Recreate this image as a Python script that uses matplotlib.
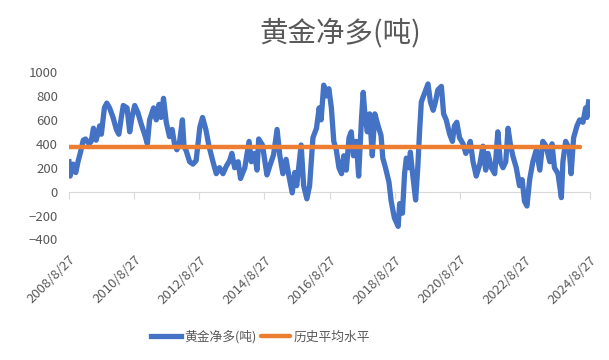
import matplotlib
matplotlib.use("Agg")
import matplotlib.pyplot as plt
import pandas as pd

plt.rcParams['font.family'] = ['Noto Sans CJK SC', 'DejaVu Sans']

# gold net long (tonnes)
dates = [
    "2008-08-27", "2008-09-09", "2008-10-11", "2008-11-11", "2008-12-06",
    "2009-01-03", "2009-02-03", "2009-02-28", "2009-04-09", "2009-05-03",
    "2009-05-28", "2009-06-28", "2009-08-06", "2009-08-25", "2009-09-28",
    "2009-10-25", "2009-11-25", "2010-01-03", "2010-02-09", "2010-03-09",
    "2010-04-06", "2010-04-28", "2010-06-09", "2010-07-09", "2010-08-03",
    "2010-09-03", "2010-10-09", "2010-11-17", "2010-12-23", "2011-01-23",
    "2011-02-17", "2011-04-03", "2011-05-03", "2011-06-03", "2011-06-25",
    "2011-07-23", "2011-08-23", "2011-09-28", "2011-10-28", "2011-11-23",
    "2011-12-20", "2012-01-20", "2012-02-20", "2012-03-09", "2012-04-03",
    "2012-05-11", "2012-06-17", "2012-07-23", "2012-09-03", "2012-10-03",
    "2012-11-09", "2012-12-14", "2013-01-28", "2013-03-06", "2013-04-11",
    "2013-05-20", "2013-06-25", "2013-08-03", "2013-08-28", "2013-09-28",
    "2013-11-06", "2013-12-03", "2014-01-20", "2014-03-09", "2014-04-03",
    "2014-05-09", "2014-06-06", "2014-06-25", "2014-08-06", "2014-08-28",
    "2014-09-25", "2014-11-03", "2014-12-09", "2015-01-17", "2015-02-17",
    "2015-03-23", "2015-04-28", "2015-05-25", "2015-07-06", "2015-08-03",
    "2015-08-25", "2015-10-14", "2015-11-11", "2015-12-17", "2016-01-17",
    "2016-02-23", "2016-04-03", "2016-05-03", "2016-05-25", "2016-06-23",
    "2016-07-23", "2016-08-20", "2016-09-17", "2016-10-14", "2016-11-11",
    "2016-12-11", "2017-01-09", "2017-02-03", "2017-03-03", "2017-04-03",
    "2017-04-28", "2017-05-23", "2017-06-23", "2017-07-20", "2017-08-20",
    "2017-09-09", "2017-09-28", "2017-10-25", "2017-11-20", "2017-12-20",
    "2018-01-17", "2018-02-23", "2018-03-28", "2018-04-17", "2018-05-17",
    "2018-06-25", "2018-07-20", "2018-08-25", "2018-10-06", "2018-10-23",
    "2018-11-23", "2018-12-17", "2019-01-06", "2019-02-06", "2019-02-20",
    "2019-03-20", "2019-04-20", "2019-05-14", "2019-06-03", "2019-06-23",
    "2019-07-28", "2019-09-06", "2019-10-03", "2019-11-03", "2019-11-28",
    "2019-12-25", "2020-02-03", "2020-02-28", "2020-03-28", "2020-05-06",
    "2020-06-06", "2020-06-28", "2020-07-25", "2020-08-25", "2020-10-03",
    "2020-11-03", "2020-11-28", "2020-12-23", "2021-01-23", "2021-02-28",
    "2021-04-09", "2021-05-14", "2021-06-14", "2021-07-09", "2021-08-17",
    "2021-09-23", "2021-10-28", "2021-11-25", "2021-12-25", "2022-01-25",
    "2022-02-20", "2022-03-17", "2022-04-14", "2022-05-23", "2022-06-28",
    "2022-07-28", "2022-08-23", "2022-09-20", "2022-10-20", "2022-11-25",
    "2023-01-03", "2023-02-11", "2023-03-17", "2023-04-23", "2023-06-03",
    "2023-06-28", "2023-07-25", "2023-09-03", "2023-10-11", "2023-10-28",
    "2023-11-28", "2024-01-06", "2024-01-28", "2024-02-25", "2024-04-03",
    "2024-05-03", "2024-06-09", "2024-07-09", "2024-07-23", "2024-08-11",
]
net_long = [
    250, 130, 230, 160, 250,
    330, 430, 440, 400, 420,
    530, 430, 550, 480, 700,
    740, 700, 620, 520, 480,
    620, 720, 700, 500, 620,
    720, 660, 560, 480, 400,
    600, 700, 600, 730, 620,
    780, 580, 460, 520, 400,
    350, 420, 600, 380, 340,
    250, 230, 260, 540, 620,
    520, 380, 250, 150, 200,
    150, 210, 260, 320, 200,
    250, 110, 200, 420, 250,
    320, 180, 440, 390, 280,
    140, 230, 310, 520, 300,
    150, 270, 150, -10, 160,
    50, 390, 50, -60, 50,
    450, 530, 700, 600, 890,
    800, 860, 700, 420, 350,
    200, 150, 300, 180, 450,
    500, 300, 420, 130, 600,
    830, 650, 500, 650, 300,
    650, 550, 470, 280, 200,
    80, -80, -220, -290, -100,
    -180, 150, 280, 200, 330,
    130, -70, 200, 500, 750,
    820, 900, 750, 680, 750,
    850, 880, 650, 600, 480,
    420, 550, 580, 450, 400,
    320, 360, 420, 250, 130,
    230, 380, 180, 320, 200,
    150, 500, 250, 200, 250,
    530, 400, 300, 200, 50,
    100, -80, -120, 100, 250,
    350, 180, 420, 380, 250,
    400, 200, 150, -50, 250,
    420, 360, 150, 450, 550,
    600, 580, 700, 620, 750,
]

avg_dates = ["2008-08-27", "2024-05-10"]
avg_values = [375, 375]

tick_dates = ["2008-08-27", "2010-08-27", "2012-08-27", "2014-08-27", "2016-08-27",
              "2018-08-27", "2020-08-27", "2022-08-27", "2024-08-27"]
tick_labels = ["2008/8/27", "2010/8/27", "2012/8/27", "2014/8/27", "2016/8/27",
               "2018/8/27", "2020/8/27", "2022/8/27", "2024/8/27"]

blue = "#4472C4"
orange = "#ED7D31"
gray = "#595959"

x = pd.to_datetime(dates)
xa = pd.to_datetime(avg_dates)
xt = pd.to_datetime(tick_dates)

fig = plt.figure(figsize=(6.09, 3.6), dpi=100)
ax = fig.add_axes([69 / 609, 1 - 239.5 / 360, (590 - 69) / 609, (239.5 - 72) / 360])

ax.plot(x, net_long, color=blue, lw=3.8, solid_joinstyle="round", label="黄金净多(吨)")
ax.plot(xa, avg_values, color=orange, lw=3.2, solid_capstyle="round", label="历史平均水平")

ax.set_xlim(xt[0], xt[-1])
ax.set_ylim(-400, 1000)
ax.set_yticks(range(-400, 1001, 200))
ax.tick_params(axis="y", length=0, labelsize=9.5, labelcolor=gray, pad=8)

for s in ["top", "right", "left"]:
    ax.spines[s].set_visible(False)
ax.spines["bottom"].set_position(("data", 0))
ax.spines["bottom"].set_color("#D9D9D9")
ax.spines["bottom"].set_zorder(0)
ax.set_xticks(xt)
ax.set_xticklabels([])
ax.tick_params(axis="x", length=5, color="#D9D9D9", direction="out")

sec = ax.secondary_xaxis(0)
sec.set_xticks(xt)
sec.set_xticklabels(tick_labels, rotation=45, ha="right", rotation_mode="anchor")
sec.tick_params(length=0, labelsize=9.5, labelcolor=gray, pad=10)
sec.spines["bottom"].set_visible(False)

fig.text(340 / 609, 1 - 33 / 360, "黄金净多(吨)", ha="center", va="center",
         fontsize=20.5, color=gray)

fig.legend(loc="center", bbox_to_anchor=(261 / 609, 1 - 337 / 360), ncol=2,
           frameon=False, fontsize=9.2, labelcolor=gray, handlelength=2.3,
           handletextpad=0.3, columnspacing=0.3)

fig.savefig("out.png", dpi=100)
